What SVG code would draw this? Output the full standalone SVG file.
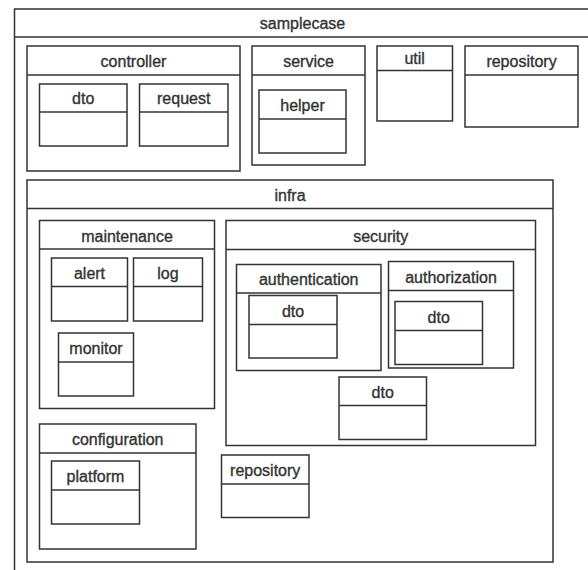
<svg xmlns="http://www.w3.org/2000/svg" width="588" height="570" viewBox="0 0 588 570">
  <style>
    .box { fill: #ffffff; stroke: #333333; stroke-width: 1.5; }
    .sep { stroke: #333333; stroke-width: 1.5; fill: none; }
    .lbl { font-family: "Liberation Sans", Arial, sans-serif; font-size: 16px; fill: #333333; stroke: #333333; stroke-width: 0.35; text-anchor: middle; }
  </style>
  <rect width="588" height="570" fill="#ffffff"/>

  <!-- package: samplecase (extends past the right and bottom edges) -->
  <g id="samplecase">
    <rect class="box" x="14.5" y="9" width="576" height="600"/>
    <line class="sep" x1="14.5" y1="37" x2="590.5" y2="37"/>
    <text class="lbl" x="302.5" y="29">samplecase</text>
  </g>

  <!-- package: controller -->
  <g id="controller">
    <rect class="box" x="27" y="46" width="213" height="125"/>
    <line class="sep" x1="27" y1="75" x2="240" y2="75"/>
    <text class="lbl" x="133.5" y="67.3">controller</text>
  </g>
  <g id="controller-dto">
    <rect class="box" x="39.5" y="84" width="87.5" height="62"/>
    <line class="sep" x1="39.5" y1="112" x2="127" y2="112"/>
    <text class="lbl" x="83.2" y="104">dto</text>
  </g>
  <g id="controller-request">
    <rect class="box" x="139.5" y="84" width="88.5" height="62"/>
    <line class="sep" x1="139.5" y1="112" x2="228" y2="112"/>
    <text class="lbl" x="183.7" y="104">request</text>
  </g>

  <!-- package: service -->
  <g id="service">
    <rect class="box" x="252" y="46" width="113" height="119"/>
    <line class="sep" x1="252" y1="75" x2="365" y2="75"/>
    <text class="lbl" x="308.5" y="67.3">service</text>
  </g>
  <g id="service-helper">
    <rect class="box" x="259" y="90" width="87" height="63"/>
    <line class="sep" x1="259" y1="119" x2="346" y2="119"/>
    <text class="lbl" x="302.5" y="111">helper</text>
  </g>

  <!-- package: util -->
  <g id="util">
    <rect class="box" x="377" y="46" width="75.5" height="75"/>
    <line class="sep" x1="377" y1="70.5" x2="452.5" y2="70.5"/>
    <text class="lbl" x="414.7" y="64">util</text>
  </g>

  <!-- package: repository -->
  <g id="repository">
    <rect class="box" x="465" y="46" width="113" height="81"/>
    <line class="sep" x1="465" y1="75" x2="578" y2="75"/>
    <text class="lbl" x="521.5" y="67.3">repository</text>
  </g>

  <!-- package: infra -->
  <g id="infra">
    <rect class="box" x="27" y="180" width="526" height="382"/>
    <line class="sep" x1="27" y1="208.5" x2="553" y2="208.5"/>
    <text class="lbl" x="290" y="201">infra</text>
  </g>

  <!-- infra / maintenance -->
  <g id="maintenance">
    <rect class="box" x="39.5" y="220.5" width="175" height="188"/>
    <line class="sep" x1="39.5" y1="249" x2="214.5" y2="249"/>
    <text class="lbl" x="127" y="241.5">maintenance</text>
  </g>
  <g id="maintenance-alert">
    <rect class="box" x="51.5" y="258" width="76" height="63"/>
    <line class="sep" x1="51.5" y1="286.5" x2="127.5" y2="286.5"/>
    <text class="lbl" x="89.5" y="279">alert</text>
  </g>
  <g id="maintenance-log">
    <rect class="box" x="133.5" y="258" width="69" height="63"/>
    <line class="sep" x1="133.5" y1="286.5" x2="202.5" y2="286.5"/>
    <text class="lbl" x="168" y="279">log</text>
  </g>
  <g id="maintenance-monitor">
    <rect class="box" x="58.5" y="333" width="75" height="63"/>
    <line class="sep" x1="58.5" y1="362" x2="133.5" y2="362"/>
    <text class="lbl" x="96" y="354">monitor</text>
  </g>

  <!-- infra / security -->
  <g id="security">
    <rect class="box" x="226" y="220.5" width="309.5" height="225"/>
    <line class="sep" x1="226" y1="249.5" x2="535.5" y2="249.5"/>
    <text class="lbl" x="380.7" y="241.5">security</text>
  </g>
  <g id="authentication">
    <rect class="box" x="236.5" y="264.5" width="144.5" height="106"/>
    <line class="sep" x1="236.5" y1="293" x2="381" y2="293"/>
    <text class="lbl" x="308.7" y="285.3">authentication</text>
  </g>
  <g id="authentication-dto">
    <rect class="box" x="249" y="295.5" width="88" height="62.5"/>
    <line class="sep" x1="249" y1="324.5" x2="337" y2="324.5"/>
    <text class="lbl" x="293" y="316.5">dto</text>
  </g>
  <g id="authorization">
    <rect class="box" x="388.5" y="261.5" width="125" height="106.5"/>
    <line class="sep" x1="388.5" y1="290.5" x2="513.5" y2="290.5"/>
    <text class="lbl" x="451" y="282.7">authorization</text>
  </g>
  <g id="authorization-dto">
    <rect class="box" x="395" y="301.5" width="87.5" height="63"/>
    <line class="sep" x1="395" y1="330.5" x2="482.5" y2="330.5"/>
    <text class="lbl" x="438.7" y="322.5">dto</text>
  </g>
  <g id="security-dto">
    <rect class="box" x="339" y="377" width="87.5" height="62.5"/>
    <line class="sep" x1="339" y1="405.5" x2="426.5" y2="405.5"/>
    <text class="lbl" x="382.7" y="398">dto</text>
  </g>

  <!-- infra / configuration -->
  <g id="configuration">
    <rect class="box" x="39.5" y="424" width="156.5" height="125"/>
    <line class="sep" x1="39.5" y1="453" x2="196" y2="453"/>
    <text class="lbl" x="117.7" y="445">configuration</text>
  </g>
  <g id="configuration-platform">
    <rect class="box" x="51.5" y="461" width="88" height="63"/>
    <line class="sep" x1="51.5" y1="490" x2="139.5" y2="490"/>
    <text class="lbl" x="95.5" y="482">platform</text>
  </g>

  <!-- infra / repository -->
  <g id="infra-repository">
    <rect class="box" x="221.5" y="455" width="87.5" height="62.5"/>
    <line class="sep" x1="221.5" y1="484" x2="309" y2="484"/>
    <text class="lbl" x="265.2" y="476">repository</text>
  </g>
</svg>
